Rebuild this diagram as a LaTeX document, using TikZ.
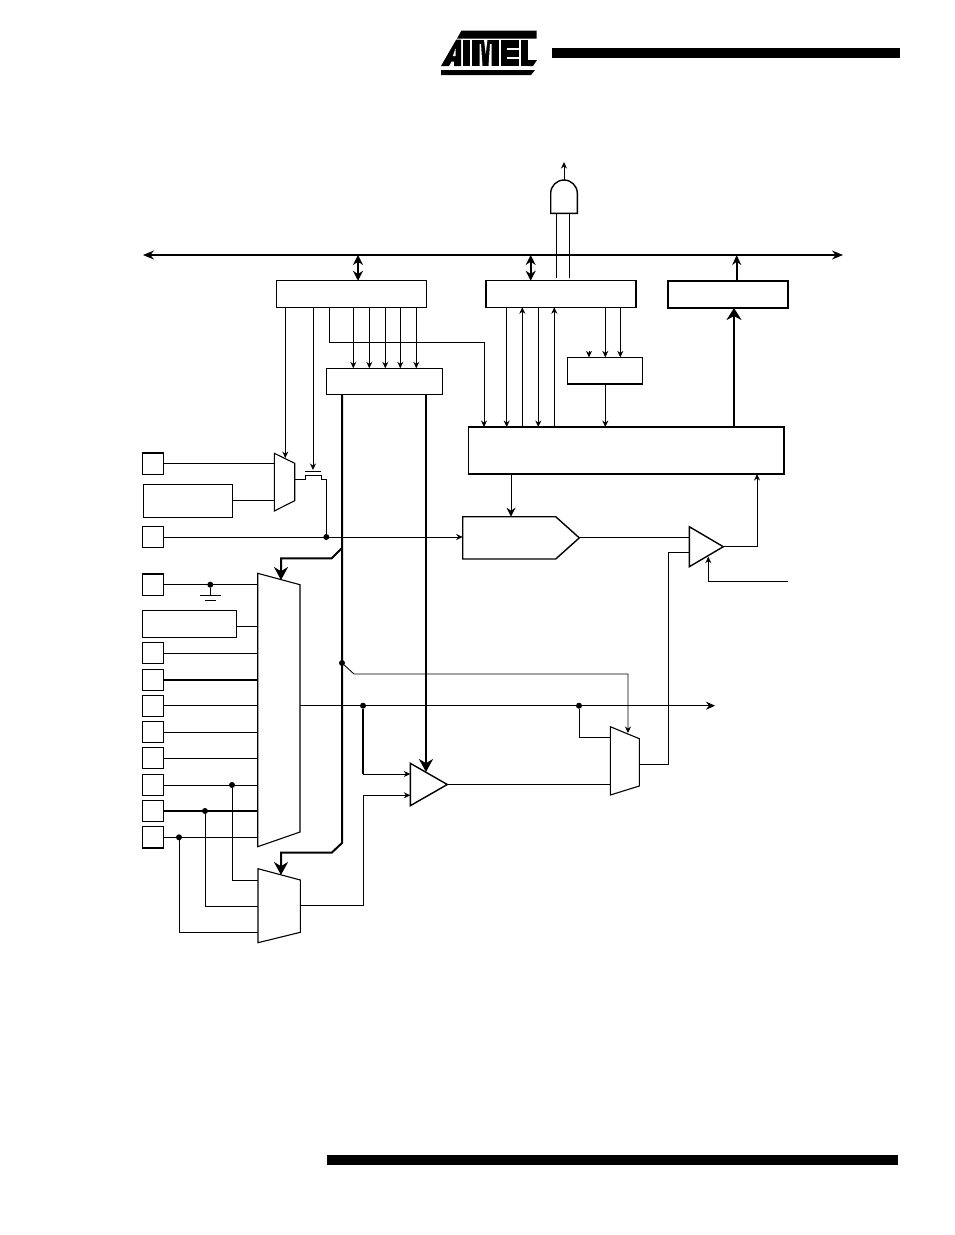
\documentclass[tikz,border=0pt]{standalone}
\usepackage{tikz}
\usetikzlibrary{arrows.meta}
\tikzset{
  boxpart/.style={draw,line width=1.4pt,inner sep=0pt,outer sep=0pt},
  shapepart/.style={inner sep=0pt,outer sep=0pt},
  boxsize/.style 2 args={minimum width=#1,minimum height=#2},
  pinbox/.style={draw,line width=1.1pt,inner sep=0pt,outer sep=0pt,minimum size=21.4pt},
  outline/.style={line width=1.1pt,line join=miter},
  dotpart/.style={circle,fill=black,inner sep=0pt,outer sep=0pt,minimum size=6pt},
  wire/.style={line width=0.9pt},
  wirearrow/.style={wire,-{Stealth[length=6.5pt,width=6pt]}},
  heavy/.style={line width=2pt},
  heavyarrow/.style={heavy,-{Stealth[length=13pt,width=14pt]}},
  busarrow/.style={line width=2pt,{Stealth[length=10pt,width=10pt]}-{Stealth[length=10pt,width=10pt]}}
}
\newcommand{\muxoutline}[3]{\draw[outline] (#1.north west) -- ([yshift=-#2]#1.north east) -- ([yshift=#3]#1.south east) -- (#1.south west) -- cycle;}
\newcommand{\triangleoutline}[1]{\draw[outline,line width=1.4pt] (#1.north west) -- (#1.east) -- (#1.south west) -- cycle;}
\begin{document}
\begin{tikzpicture}[x=1pt,y=-1pt]
\useasboundingbox (0,0) rectangle (954,1235);

\fill (552,48) rectangle (900,58);
\fill (327,1155) rectangle (898,1165);

\fill (461.5,30.5) -- (536.7,30.5) -- (536.7,38.5) -- (457,38.5) -- cycle;
\fill (456.3,39.5) -- (441,66) -- (449,66) -- (451.5,61.5) -- (454,61.5) -- (454,66) -- (461,66) -- (461,39.5) -- cycle;
\fill[white] (455.5,48.5) -- (452.8,56) -- (455.5,56) -- cycle;
\fill (462.5,39.5) rectangle (470,66);
\fill (472,39.5) rectangle (499,66);
\fill[white] (479.5,44) -- (481,44) -- (482.5,66) -- (479.5,66) -- cycle;
\fill[white] (484,39.5) -- (487.5,39.5) -- (485.7,54) -- cycle;
\fill[white] (490,44) -- (491.5,44) -- (491.5,66) -- (488.5,66) -- cycle;
\fill (501,39.5) rectangle (519,66);
\fill[white] (506.5,47.5) rectangle (519,49.5);
\fill[white] (506.5,56.5) rectangle (519,58.5);
\fill (521,39.5) rectangle (528,66);
\fill (528,60) -- (537,60) -- (533,66) -- (528,66) -- cycle;
\fill (441,70) -- (535,70) -- (531,75) -- (441,75) -- cycle;

\coordinate (buswest) at (143,255);
\coordinate (buseast) at (843,255);
\draw[line width=1.3pt,{Stealth[length=11pt,width=9pt]}-{Stealth[length=11pt,width=9pt]}] (buswest) -- (buseast);

\node[boxpart,boxsize={150pt}{26.5pt}] (timerreg) at (351.7,294) {};
\node[boxpart,boxsize={150pt}{26.5pt}] (ctrlreg) at (561,294) {};
\node[boxpart,boxsize={120pt}{27pt}] (bufreg) at (728,294.5) {};
\node[boxpart,line width=1pt,boxsize={115.6pt}{26pt}] (latch) at (384.5,381.3) {};
\node[boxpart,line width=1.5pt,boxsize={75pt}{26.7pt}] (prescale) at (604.8,370.7) {};
\node[boxpart,line width=1.5pt,boxsize={315.7pt}{47pt}] (ctrllogic) at (626.2,450.5) {};

\node[shapepart,boxsize={116.6pt}{42.3pt}] (counter) at (521,537.85) {};
\draw[outline,line width=1.4pt] (counter.north west) -- ([xshift=-23.6pt]counter.north east) -- (counter.east) -- ([xshift=-23.6pt]counter.south east) -- (counter.south west) -- cycle;
\node[shapepart,boxsize={34pt}{40pt}] (comptri) at (706.3,546.7) {};
\triangleoutline{comptri}
\node[shapepart,boxsize={37pt}{42.4pt}] (amptri) at (428.8,784.5) {};
\triangleoutline{amptri}
\node[shapepart,boxsize={26.6pt}{33.3pt}] (andgate) at (564,196.65) {};
\draw[outline,line width=1.4pt] (andgate.south west) -- ++(0,-20) arc[start angle=180,end angle=0,radius=13.3pt] -- (andgate.south east) -- cycle;

\node[shapepart,boxsize={20.4pt}{57.7pt}] (muxa) at (284.5,482.15) {};
\muxoutline{muxa}{10pt}{10.3pt}
\node[shapepart,boxsize={42.3pt}{273.4pt}] (muxb) at (278.85,710) {};
\muxoutline{muxb}{11.4pt}{14.7pt}
\node[shapepart,boxsize={42.3pt}{74pt}] (muxc) at (279.15,905.7) {};
\muxoutline{muxc}{11.3pt}{10.4pt}
\node[shapepart,boxsize={29pt}{68.3pt}] (muxd) at (624.8,760.85) {};
\muxoutline{muxd}{12pt}{9pt}

\node[boxpart,line width=1.1pt,boxsize={89.4pt}{33pt}] (oscbox) at (188,500.8) {};
\node[boxpart,line width=1.1pt,boxsize={94.4pt}{26.6pt}] (refbox) at (189.5,624) {};
\foreach \nm/\yy in {pina/463.7,pinb/537,pinc/584.7,pind/653.1,pine/680,pinf/705.9,ping/732,pinh/758,pini/785,pinj/811,pink/837.3}
  \node[pinbox] (\nm) at (153,\yy) {};

\node[dotpart] (jclk) at (326.3,0 |- pinb) {};
\node[dotpart] (jgnd) at (210.3,0 |- pinc) {};
\node[dotpart] (jseli) at (232,0 |- pini) {};
\node[dotpart] (jselj) at (205,0 |- pinj) {};
\node[dotpart] (jselk) at (179,0 |- pink) {};
\node[dotpart] (jsel) at (342,663) {};
\coordinate (outlet) at (715,705.7);
\node[dotpart] (jout) at (363,0 |- outlet) {};
\node[dotpart] (jmon) at (579,0 |- outlet) {};
\coordinate (gatemid) at (313,471.7);
\coordinate (vref) at (788,581.3);
\coordinate (ampa) at (410.3,774);
\coordinate (ampb) at (410.3,795.3);
\coordinate (muxdin) at (610.3,737);
\coordinate (muxdout) at (639.3,764);
\coordinate (compb) at (689.3,552.7);
\coordinate (muxca) at (258,880);
\coordinate (muxcb) at (258,906);
\coordinate (muxcc) at (258,932);

\draw[busarrow] (358,0 |- buswest) -- (358,0 |- timerreg.north);
\draw[busarrow] (530.7,0 |- buswest) -- (530.7,0 |- ctrlreg.north);
\draw[heavy,-{Stealth[length=10pt,width=9pt]}] (736.7,0 |- bufreg.north) -- (736.7,0 |- buswest);
\draw[heavy,-{Stealth[length=12pt,width=15pt]}] (734,0 |- ctrllogic.north) -- (734,0 |- bufreg.south);

\foreach \xx in {556.7,569.3}
  \draw[wire] (\xx,0 |- andgate.south) -- (\xx,278.3);
\draw[wirearrow] (andgate.north) -- ++(0,-18);

\draw[wirearrow] (285.3,0 |- timerreg.south) -- (285.3,458);
\draw[wirearrow] (313,0 |- timerreg.south) -- (313,470);
\draw[wire] ([xshift=-8pt]gatemid) -- ([xshift=8pt]gatemid);
\draw[wire,line join=miter] ([yshift=2.9pt]muxa.east) -- ++(11,0) -- ++(0,-4.3) -- ++(16,0) -- ++(0,4.3) -- ++(4.6,0) -- (jclk);
\foreach \xx in {353.3,369.3,385.3,400.3,416.3}
  \draw[wirearrow] (\xx,0 |- timerreg.south) -- (\xx,0 |- latch.north);
\draw[wirearrow] (329,0 |- timerreg.south) |- (484,342.7) -- (484,0 |- ctrllogic.north);

\foreach \xx in {506.7,538.3}
  \draw[wirearrow] (\xx,0 |- ctrlreg.south) -- (\xx,0 |- ctrllogic.north);
\foreach \xx in {522.3,554.3}
  \draw[wirearrow] (\xx,0 |- ctrllogic.north) -- (\xx,0 |- ctrlreg.south);
\foreach \xx in {605.3,620.3}
  \draw[wirearrow] (\xx,0 |- ctrlreg.south) -- (\xx,0 |- prescale.north);
\draw[wirearrow] (589,350.5) -- (589,0 |- prescale.north);
\draw[wirearrow] (605.3,0 |- prescale.south) -- (605.3,0 |- ctrllogic.north);

\draw[wire,-{Stealth[length=9pt,width=9pt]}] (511,0 |- ctrllogic.south) -- (511,0 |- counter.north);
\draw[wirearrow] (pinb) -- (pinb -| counter.west);
\draw[wire] (counter.east) -- (counter.east -| comptri.west);
\draw[wirearrow] (comptri.east) -| (757,0 |- ctrllogic.south);
\draw[wirearrow] (vref) -| (708.3,556.7);

\draw[wire] (pina) -- (pina -| muxa.west);
\draw[wire] (oscbox.east) -- (oscbox.east -| muxa.west);
\draw[wire] (pinc) -- (pinc -| muxb.west);
\draw[wire] (jgnd) -- (210.3,595.5);
\draw[wire] (200,595.5) -- (220.7,595.5);
\draw[wire] (205,600.4) -- (216,600.4);
\draw[wire] (refbox.east |- 0,626.7) -- (muxb.west |- 0,626.7);
\foreach \nm in {pind,pinf,ping,pinh,pini,pink}
  \draw[wire] (\nm) -- (\nm -| muxb.west);
\foreach \nm in {pine,pinj}
  \draw[heavy,line width=1.6pt] (\nm) -- (\nm -| muxb.west);

\draw[wire] (jseli) |- (muxca);
\draw[wire] (jselj) |- (muxcb);
\draw[wire] (jselk) |- (muxcc);

\draw[heavyarrow,line join=miter] (342,0 |- latch.south) -- (342,843) -- (331.7,852.7) -- (281,852.7) -- (281,875);
\draw[heavyarrow,line join=miter] (342,548) -- (331.7,558.3) -- (281,558.3) -- (281,580);
\draw[heavyarrow] (426,0 |- latch.south) -- (426,772);
\draw[wirearrow] (jsel) -- (354,674) -- (628,674) -- (628,733);

\draw[wire,line width=1.1pt,-{Stealth[length=9pt,width=8pt]}] (muxb.east |- outlet) -- (outlet);
\draw[wire,line width=1.5pt] (jout) -- (jout |- ampa);
\draw[wirearrow] (jout |- ampa) -- (ampa);
\draw[wirearrow] (muxc.east) -| (jout |- ampb) -- (ampb);
\draw[wire] (amptri.east) -- (amptri.east -| muxd.west);
\draw[wire] (jmon) |- (muxdin);
\draw[wire] (muxdout) -- (668.3,0 |- muxdout) |- (compb);
\end{tikzpicture}
\end{document}
